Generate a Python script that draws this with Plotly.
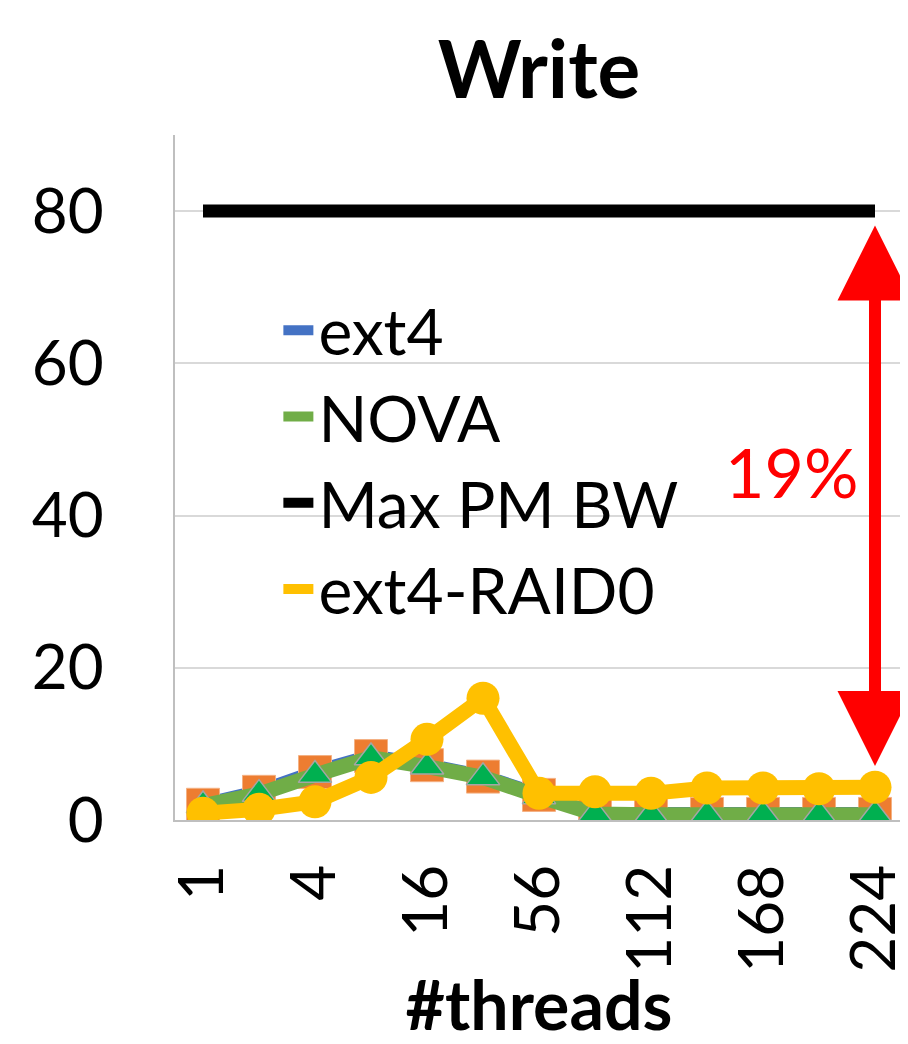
import plotly.graph_objects as go

threads = ["1", "2", "4", "8", "16", "28", "56", "84", "112", "140", "168", "196", "224"]
tick_labels = ["1", "4", "16", "56", "112", "168", "224"]
ext4 = [2.0, 3.7, 6.3, 8.4, 7.2, 5.7, 3.3, 0.8, 0.8, 0.8, 0.8, 0.8, 0.8]
nova = [1.9, 3.4, 5.9, 8.2, 7.0, 5.6, 3.1, 0.8, 0.7, 0.7, 0.7, 0.7, 0.7]
max_pm_bw = [80] * 13
ext4_raid0 = [0.9, 1.4, 2.4, 5.6, 10.6, 16.0, 3.5, 3.7, 3.5, 4.2, 4.2, 4.1, 4.3]

FONT = "Lato"

fig = go.Figure()
fig.add_trace(go.Scatter(x=threads, y=max_pm_bw, name="Max PM BW", mode="lines",
                         line=dict(color="#000000", width=13), legendrank=3))
fig.add_trace(go.Scatter(x=threads, y=ext4, name="ext4", mode="lines",
                         line=dict(color="#4472c4", width=14), legendrank=1))
fig.add_trace(go.Scatter(x=threads, y=ext4, name="ext4", mode="markers", showlegend=False,
                         marker=dict(symbol="square", size=33, color="#ed7d31",
                                     line=dict(color="#f4b183", width=1))))
fig.add_trace(go.Scatter(x=threads, y=nova, name="NOVA", mode="lines",
                         line=dict(color="#70ad47", width=15), legendrank=2))
fig.add_trace(go.Scatter(x=threads, y=nova, name="NOVA", mode="markers", showlegend=False,
                         marker=dict(symbol="triangle-up", size=29, color="#00b050",
                                     line=dict(color="#a5a5a5", width=1.5))))
fig.add_trace(go.Scatter(x=threads, y=ext4_raid0, name="ext4-RAID0", mode="lines",
                         line=dict(color="#ffc000", width=15), legendrank=4))
fig.add_trace(go.Scatter(x=threads, y=ext4_raid0, name="ext4-RAID0", mode="markers",
                         showlegend=False, marker=dict(symbol="circle", size=33, color="#ffc000")))

# red double-headed arrow showing the gap
fig.add_annotation(x=12, y=7.1, ax=12, ay=78.3, xref="x", yref="y", axref="x", ayref="y",
                   text="", showarrow=True, arrowside="end+start", arrowhead=2, startarrowhead=2,
                   arrowcolor="#ff0000", arrowwidth=12, arrowsize=1.25, startarrowsize=1.25,
                   standoff=0, startstandoff=0)
fig.add_annotation(x=10.5, y=45.8, xref="x", yref="y", text="19%", showarrow=False,
                   font=dict(family=FONT, size=68, color="#ff0000"))

# the page body adds an 8 px offset, so the figure is 8 px smaller than the window
fig.update_layout(
    width=900, height=1036,
    margin=dict(l=167, r=5, t=127, b=224, autoexpand=False),
    paper_bgcolor="white", plot_bgcolor="white",
    font=dict(family=FONT, color="#000000"),
    title=dict(text="<b>Write</b>", x=531 / 900, xanchor="center", y=1 - 62 / 1036, yanchor="middle",
               yref="container", font=dict(family=FONT, size=80, color="#000000")),
    showlegend=True,
    legend=dict(x=0.142, xanchor="left", y=0.785, yanchor="top", bgcolor="rgba(0,0,0,0)",
                font=dict(family=FONT, size=64, color="#000000"),
                traceorder="normal"),
    xaxis=dict(type="category", categoryorder="array", categoryarray=threads,
               range=[-0.5, 12.5], tickmode="array", tickvals=tick_labels, ticktext=tick_labels,
               tickangle=-90, tickfont=dict(family=FONT, size=62), showgrid=False,
               showline=True, linecolor="#bfbfbf", linewidth=2, ticks="", ticklabelstandoff=18,
               title=dict(text="<b>#threads</b>", font=dict(family=FONT, size=68), standoff=8),
               zeroline=False, automargin=False),
    yaxis=dict(range=[0, 90], tickvals=[0, 20, 40, 60, 80], tickfont=dict(family=FONT, size=62),
               showgrid=True, gridcolor="#d9d9d9", gridwidth=1.5, showline=True, linecolor="#bfbfbf",
               linewidth=2, ticks="", ticklabelstandoff=57, zeroline=False, automargin=False),
)

fig.write_html("out.html")
